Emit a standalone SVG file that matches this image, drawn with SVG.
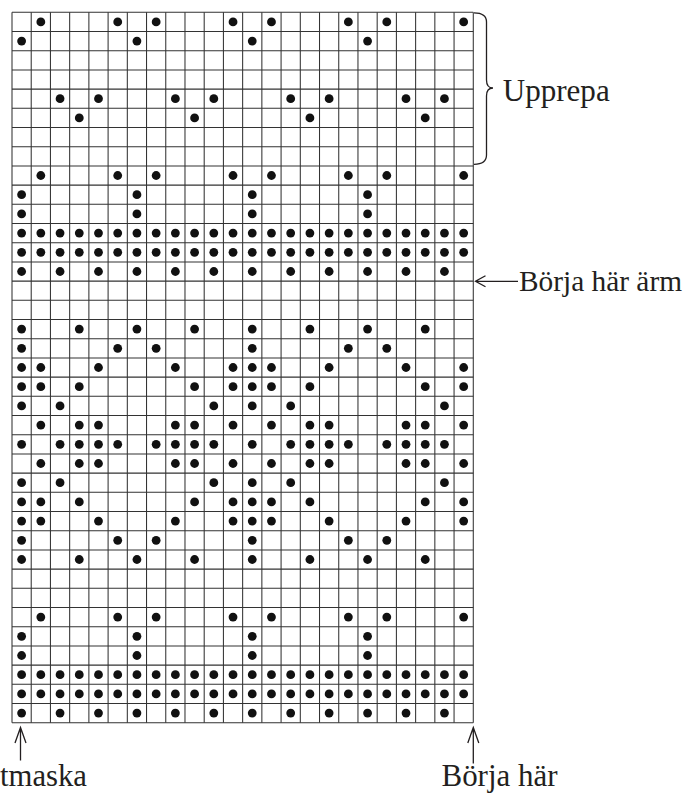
<svg xmlns="http://www.w3.org/2000/svg" xmlns:xlink="http://www.w3.org/1999/xlink" width="689" height="793" viewBox="0 0 689 793">
<style>
.grid{fill:none;stroke:#333;stroke-width:1.05}
.lbl{font-family:"Liberation Serif","Times New Roman",serif;font-size:32px;fill:#231f20}
.ar{fill:none;stroke:#231f20;stroke-width:1.3}
</style>
<defs>
<circle id="d" r="4.4" fill="#111"/>
<g id="A"><use href="#d" x="40.83"/><use href="#d" x="117.71"/><use href="#d" x="156.15"/><use href="#d" x="233.03"/><use href="#d" x="271.47"/><use href="#d" x="348.35"/><use href="#d" x="386.79"/><use href="#d" x="463.67"/></g>
<g id="B"><use href="#d" x="21.61"/><use href="#d" x="136.93"/><use href="#d" x="252.25"/><use href="#d" x="367.57"/></g>
<g id="C"><use href="#d" x="60.05"/><use href="#d" x="98.49"/><use href="#d" x="175.37"/><use href="#d" x="213.81"/><use href="#d" x="290.69"/><use href="#d" x="329.13"/><use href="#d" x="406.01"/><use href="#d" x="444.45"/></g>
<g id="D"><use href="#d" x="79.27"/><use href="#d" x="194.59"/><use href="#d" x="309.91"/><use href="#d" x="425.23"/></g>
<g id="E"><use href="#d" x="21.61"/><use href="#d" x="60.05"/><use href="#d" x="98.49"/><use href="#d" x="136.93"/><use href="#d" x="175.37"/><use href="#d" x="213.81"/><use href="#d" x="252.25"/><use href="#d" x="290.69"/><use href="#d" x="329.13"/><use href="#d" x="367.57"/><use href="#d" x="406.01"/><use href="#d" x="444.45"/></g>
<g id="O"><use href="#d" x="40.83"/><use href="#d" x="79.27"/><use href="#d" x="117.71"/><use href="#d" x="156.15"/><use href="#d" x="194.59"/><use href="#d" x="233.03"/><use href="#d" x="271.47"/><use href="#d" x="309.91"/><use href="#d" x="348.35"/><use href="#d" x="386.79"/><use href="#d" x="425.23"/><use href="#d" x="463.67"/></g>
<g id="ALL"><use href="#E"/><use href="#O"/></g>
<g id="F"><use href="#d" x="21.61"/><use href="#d" x="79.27"/><use href="#d" x="136.93"/><use href="#d" x="194.59"/><use href="#d" x="252.25"/><use href="#d" x="309.91"/><use href="#d" x="367.57"/><use href="#d" x="425.23"/></g>
<g id="G"><use href="#d" x="21.61"/><use href="#d" x="117.71"/><use href="#d" x="156.15"/><use href="#d" x="252.25"/><use href="#d" x="348.35"/><use href="#d" x="386.79"/></g>
<g id="H"><use href="#d" x="21.61"/><use href="#d" x="40.83"/><use href="#d" x="98.49"/><use href="#d" x="175.37"/><use href="#d" x="233.03"/><use href="#d" x="252.25"/><use href="#d" x="271.47"/><use href="#d" x="329.13"/><use href="#d" x="406.01"/><use href="#d" x="463.67"/></g>
<g id="I"><use href="#d" x="21.61"/><use href="#d" x="40.83"/><use href="#d" x="79.27"/><use href="#d" x="194.59"/><use href="#d" x="233.03"/><use href="#d" x="252.25"/><use href="#d" x="271.47"/><use href="#d" x="309.91"/><use href="#d" x="425.23"/><use href="#d" x="463.67"/></g>
<g id="J"><use href="#d" x="21.61"/><use href="#d" x="60.05"/><use href="#d" x="213.81"/><use href="#d" x="252.25"/><use href="#d" x="290.69"/><use href="#d" x="444.45"/></g>
<g id="K"><use href="#d" x="40.83"/><use href="#d" x="79.27"/><use href="#d" x="98.49"/><use href="#d" x="175.37"/><use href="#d" x="194.59"/><use href="#d" x="233.03"/><use href="#d" x="271.47"/><use href="#d" x="309.91"/><use href="#d" x="329.13"/><use href="#d" x="406.01"/><use href="#d" x="425.23"/><use href="#d" x="463.67"/></g>
<g id="L"><use href="#d" x="21.61"/><use href="#d" x="60.05"/><use href="#d" x="79.27"/><use href="#d" x="98.49"/><use href="#d" x="117.71"/><use href="#d" x="156.15"/><use href="#d" x="175.37"/><use href="#d" x="194.59"/><use href="#d" x="213.81"/><use href="#d" x="252.25"/><use href="#d" x="290.69"/><use href="#d" x="309.91"/><use href="#d" x="329.13"/><use href="#d" x="348.35"/><use href="#d" x="386.79"/><use href="#d" x="406.01"/><use href="#d" x="425.23"/><use href="#d" x="444.45"/></g>
</defs>
<rect width="689" height="793" fill="#fff"/>
<g id="chart-grid">
<path class="grid" d="M12 12.3V722.7M31.22 12.3V722.7M50.44 12.3V722.7M69.66 12.3V722.7M88.88 12.3V722.7M108.1 12.3V722.7M127.32 12.3V722.7M146.54 12.3V722.7M165.76 12.3V722.7M184.98 12.3V722.7M204.2 12.3V722.7M223.42 12.3V722.7M242.64 12.3V722.7M261.86 12.3V722.7M281.08 12.3V722.7M300.3 12.3V722.7M319.52 12.3V722.7M338.74 12.3V722.7M357.96 12.3V722.7M377.18 12.3V722.7M396.4 12.3V722.7M415.62 12.3V722.7M434.84 12.3V722.7M454.06 12.3V722.7M473.28 12.3V722.7"/>
<path class="grid" d="M12 12.3H473.28M12 31.5H473.28M12 50.7H473.28M12 69.9H473.28M12 89.1H473.28M12 108.3H473.28M12 127.5H473.28M12 146.7H473.28M12 165.9H473.28M12 185.1H473.28M12 204.3H473.28M12 223.5H473.28M12 242.7H473.28M12 261.9H473.28M12 281.1H473.28M12 300.3H473.28M12 319.5H473.28M12 338.7H473.28M12 357.9H473.28M12 377.1H473.28M12 396.3H473.28M12 415.5H473.28M12 434.7H473.28M12 453.9H473.28M12 473.1H473.28M12 492.3H473.28M12 511.5H473.28M12 530.7H473.28M12 549.9H473.28M12 569.1H473.28M12 588.3H473.28M12 607.5H473.28M12 626.7H473.28M12 645.9H473.28M12 665.1H473.28M12 684.3H473.28M12 703.5H473.28M12 722.7H473.28"/>
</g>
<g id="chart-dots">
<use href="#A" y="21.9"/>
<use href="#B" y="41.1"/>
<use href="#C" y="98.7"/>
<use href="#D" y="117.9"/>
<use href="#A" y="175.5"/>
<use href="#B" y="194.7"/>
<use href="#B" y="213.9"/>
<use href="#ALL" y="233.1"/>
<use href="#ALL" y="252.3"/>
<use href="#E" y="271.5"/>
<use href="#F" y="329.1"/>
<use href="#G" y="348.3"/>
<use href="#H" y="367.5"/>
<use href="#I" y="386.7"/>
<use href="#J" y="405.9"/>
<use href="#K" y="425.1"/>
<use href="#L" y="444.3"/>
<use href="#K" y="463.5"/>
<use href="#J" y="482.7"/>
<use href="#I" y="501.9"/>
<use href="#H" y="521.1"/>
<use href="#G" y="540.3"/>
<use href="#F" y="559.5"/>
<use href="#A" y="617.1"/>
<use href="#B" y="636.3"/>
<use href="#B" y="655.5"/>
<use href="#ALL" y="674.7"/>
<use href="#ALL" y="693.9"/>
<use href="#E" y="713.1"/>
</g>
<g id="connectors">
<path class="ar" d="M474 12.8Q486.5 12.8 486.5 22V80Q486.5 88 493 88Q486.5 88 486.5 96V155Q486.5 164.3 474 164.3"/>
<path class="ar" d="M475.5 281.3H518M485.5 275.8L475.5 281.3L485.5 286.8"/>
<path class="ar" d="M20.5 727.5V760.5M15 743L20.5 727.5L26 743"/>
<path class="ar" d="M473.3 727.5V763.5M467.8 743L473.3 727.5L478.8 743"/>
</g>
<g id="labels">
<text class="lbl" x="502.7" y="100.5" textLength="107" lengthAdjust="spacingAndGlyphs">Upprepa</text>
<text class="lbl" x="519" y="291" style="font-size:30px" textLength="163" lengthAdjust="spacingAndGlyphs">Börja här ärm</text>
<text class="lbl" x="0" y="786" textLength="87" lengthAdjust="spacingAndGlyphs">tmaska</text>
<text class="lbl" x="441.5" y="786" textLength="116" lengthAdjust="spacingAndGlyphs">Börja här</text>
</g>
</svg>
